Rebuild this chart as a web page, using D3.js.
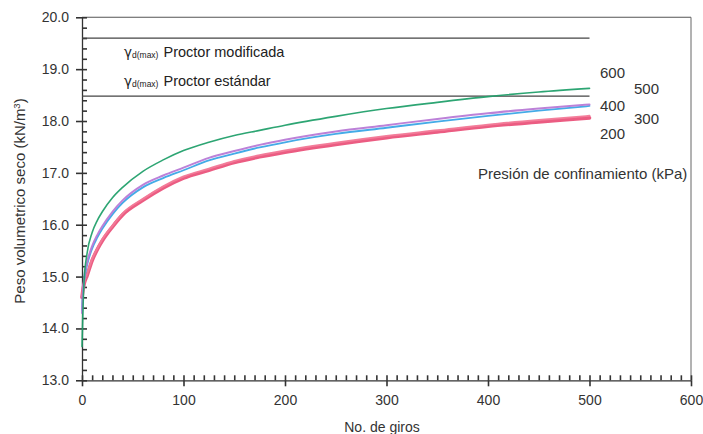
<!DOCTYPE html>
<html>
<head>
<meta charset="utf-8">
<script src="https://cdn.jsdelivr.net/npm/d3@7"></script>
<style>
  html, body { margin: 0; padding: 0; background: #fff; }
  svg { display: block; font-family: "Liberation Sans", Arial, sans-serif; }
</style>
</head>
<body>
<svg id="chart" width="703" height="434"></svg>
<script>
// ---- data ----
const giros = [0, 1, 2, 5, 10, 15, 20, 30, 40, 60, 80, 100, 125, 150, 175, 200, 250, 300, 350, 400, 450, 500];
const p600 = [13.65, 14.4, 14.9, 15.45, 15.85, 16.08, 16.25, 16.52, 16.72, 17.03, 17.25, 17.43, 17.59, 17.72, 17.82, 17.92, 18.09, 18.24, 18.36, 18.47, 18.56, 18.63];
const p500 = [14.3, 14.7, 14.95, 15.27, 15.59, 15.8, 15.97, 16.25, 16.47, 16.77, 16.95, 17.1, 17.29, 17.42, 17.54, 17.64, 17.8, 17.92, 18.04, 18.15, 18.24, 18.32];
const p400 = [14.35, 14.7, 14.9, 15.22, 15.54, 15.75, 15.92, 16.2, 16.42, 16.72, 16.9, 17.05, 17.24, 17.37, 17.49, 17.59, 17.75, 17.87, 17.99, 18.1, 18.2, 18.29];
const p300 = [14.62, 14.78, 14.88, 15.05, 15.34, 15.54, 15.72, 15.98, 16.22, 16.5, 16.74, 16.93, 17.08, 17.23, 17.34, 17.43, 17.58, 17.71, 17.82, 17.93, 18.02, 18.10];
const p200 = [14.6, 14.75, 14.85, 15.02, 15.31, 15.52, 15.69, 15.96, 16.19, 16.47, 16.71, 16.9, 17.05, 17.2, 17.31, 17.4, 17.55, 17.68, 17.79, 17.9, 17.98, 18.06];
const seriesNames = ["200", "300", "400", "500", "600"];
const seriesColors = ["#e8406c", "#f27a98", "#3aa6e6", "#b87ad6", "#22a06c"];
const seriesWidths = [3.6, 2.0, 1.8, 2.0, 1.6];
const proctorValues = [19.6, 18.48];
const proctorLabels = ["Proctor modificada", "Proctor estándar"];
const xTicks = [0, 100, 200, 300, 400, 500, 600];
const yTicks = [13, 14, 15, 16, 17, 18, 19, 20];
const xMinorTicks = d3.range(0, 601, 10);
const yMinorTicks = d3.range(130, 201, 2).map(d => d / 10);
const xTitle = "No. de giros";
const yTitle = "Peso volumetrico seco (kN/m";
const legendTitle = "Presión de confinamiento (kPa)";

const seriesData = [p200, p300, p400, p500, p600];

// ---- layout ----
const svg = d3.select("#chart");
const x = d3.scaleLinear().domain([0, 600]).range([82, 691]);
const y = d3.scaleLinear().domain([13, 20]).range([380.3, 17.3]);
const axisColor = "#333333";

// frame (top & right)
svg.append("line").attr("x1", x(0)).attr("x2", x(600)).attr("y1", y(20)).attr("y2", y(20))
  .attr("stroke", "#555").attr("stroke-width", 1.1);
svg.append("line").attr("x1", x(600)).attr("x2", x(600)).attr("y1", y(20)).attr("y2", y(13))
  .attr("stroke", "#666").attr("stroke-width", 1);

// x axis: minor ticks inward, major ticks crossing the axis
const gxm = svg.append("g").attr("transform", `translate(0,${y(13)})`);
gxm.call(d3.axisTop(x).tickValues(xMinorTicks).tickFormat("").tickSizeInner(5).tickSizeOuter(0));
gxm.selectAll(".tick line").attr("stroke", axisColor).attr("stroke-width", 1.6);
gxm.select(".domain").attr("stroke", axisColor).attr("stroke-width", 1.3);

const gx = svg.append("g").attr("transform", `translate(0,${y(13)})`);
gx.call(d3.axisBottom(x).tickValues(xTicks).tickFormat(d3.format("d")).tickSizeInner(6).tickSizeOuter(0).tickPadding(9));
gx.select(".domain").remove();
gx.selectAll(".tick line").attr("stroke", axisColor).attr("stroke-width", 1.6);
gx.selectAll(".tick text").attr("font-size", 14).attr("fill", "#333")
  .attr("font-family", "Liberation Sans, Arial, sans-serif");

// y axis
const gym = svg.append("g").attr("transform", `translate(${x(0)},0)`);
gym.call(d3.axisRight(y).tickValues(yMinorTicks).tickFormat("").tickSizeInner(5).tickSizeOuter(0));
gym.selectAll(".tick line").attr("stroke", axisColor).attr("stroke-width", 1.6);
gym.select(".domain").attr("stroke", axisColor).attr("stroke-width", 1.3);

const gy = svg.append("g").attr("transform", `translate(${x(0)},0)`);
gy.call(d3.axisLeft(y).tickValues(yTicks).tickFormat(d3.format(".1f")).tickSizeInner(6).tickSizeOuter(0).tickPadding(7));
gy.select(".domain").remove();
gy.selectAll(".tick line").attr("stroke", axisColor).attr("stroke-width", 1.6);
gy.selectAll(".tick text").attr("font-size", 14).attr("fill", "#333")
  .attr("font-family", "Liberation Sans, Arial, sans-serif");

// proctor lines
svg.append("g").selectAll("line").data(proctorValues).join("line")
  .attr("x1", x(0)).attr("x2", x(500))
  .attr("y1", d => y(d)).attr("y2", d => y(d))
  .attr("stroke", "#444").attr("stroke-width", 1.2);

// proctor labels
const plY = [57, 86];
proctorLabels.forEach((lab, i) => {
  const t = svg.append("text").attr("x", 124).attr("y", plY[i])
    .attr("font-size", 14.5).attr("fill", "#222");
  t.append("tspan").text("γ").attr("font-family", "DejaVu Sans, sans-serif").attr("font-size", 13.5);
  t.append("tspan").text("d(max)").attr("font-size", 8.5).attr("dy", 1);
  t.append("tspan").text(" " + lab).attr("dy", -1).attr("dx", 1);
});

// curves
const line = d3.line().x((d, i) => x(giros[i])).y(d => y(d)).curve(d3.curveMonotoneX);
const gc = svg.append("g");
seriesData.forEach((s, k) => {
  gc.append("path").datum(s).attr("d", line).attr("fill", "none")
    .attr("stroke", seriesColors[k]).attr("stroke-width", seriesWidths[k])
    .attr("stroke-opacity", k === 0 ? 0.85 : 0.95)
    .attr("stroke-linejoin", "round").attr("stroke-linecap", "round");
});

// series labels
const labPos = [[600, 134], [634, 119], [600, 106], [634, 89], [600, 73]];
seriesNames.forEach((n, k) => {
  svg.append("text").attr("x", labPos[k][0]).attr("y", labPos[k][1]).attr("dy", "0.35em")
    .attr("font-size", 15).attr("fill", "#333").text(n);
});
svg.append("text").attr("x", 478).attr("y", 174).attr("dy", "0.35em")
  .attr("font-size", 15).attr("fill", "#333").text(legendTitle);

// axis titles
svg.append("text").attr("x", 382).attr("y", 432).attr("text-anchor", "middle")
  .attr("font-size", 14).attr("fill", "#333").text(xTitle);
const yt = svg.append("text").attr("transform", "translate(25,201) rotate(-90)")
  .attr("text-anchor", "middle").attr("font-size", 15).attr("fill", "#333");
yt.append("tspan").text(yTitle);
yt.append("tspan").text("3").attr("font-size", 9.5).attr("dy", -5);
yt.append("tspan").text(")").attr("dy", 5);
</script>
</body>
</html>
